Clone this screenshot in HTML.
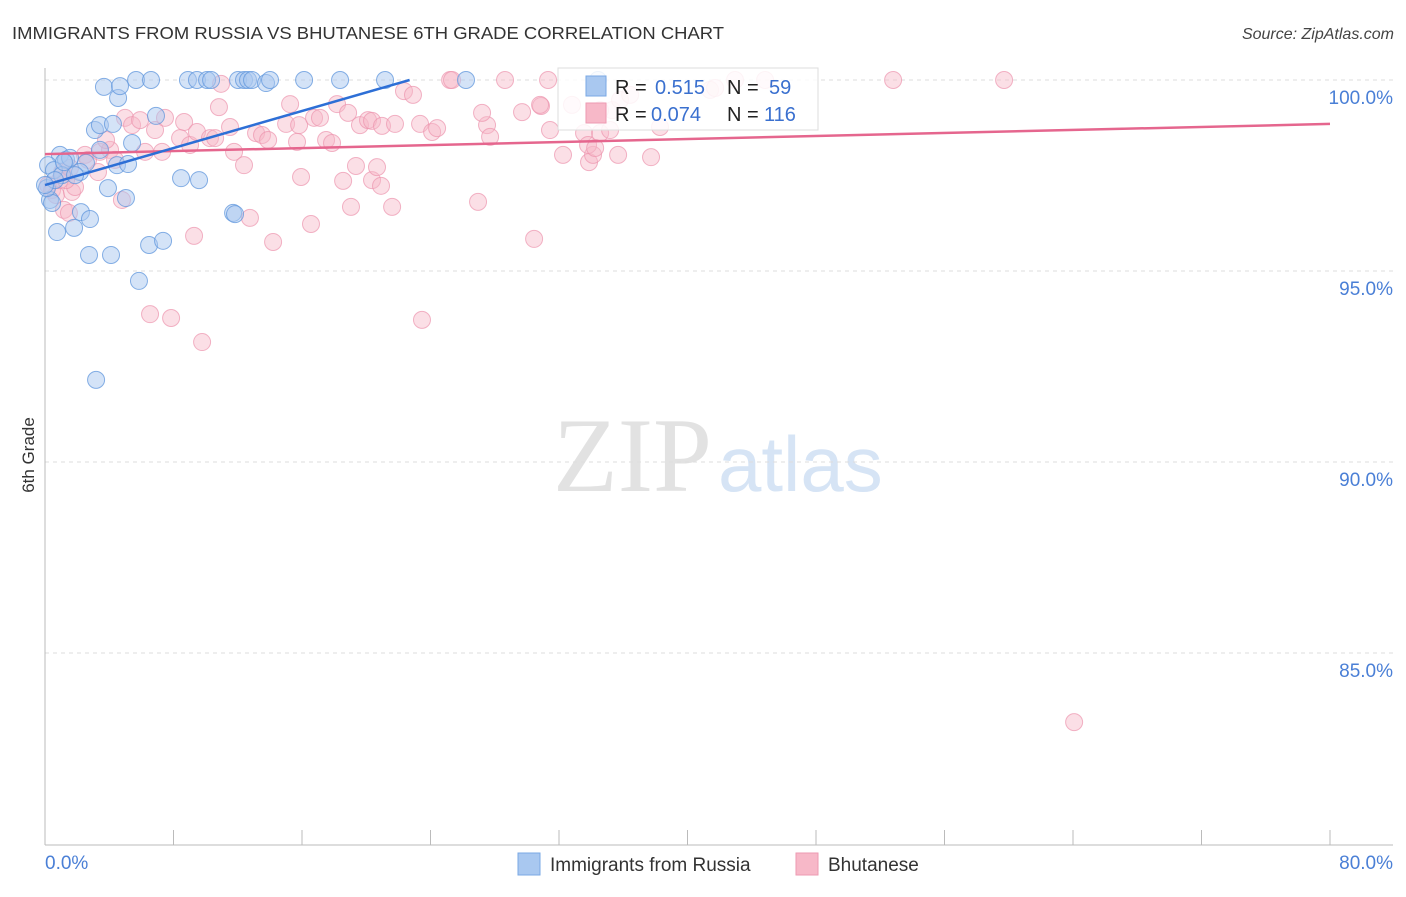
<!DOCTYPE html>
<html><head><meta charset="utf-8"><style>
body{margin:0;background:#fff;font-family:"Liberation Sans",sans-serif}
</style></head><body>
<svg width="1406" height="892" viewBox="0 0 1406 892" xmlns="http://www.w3.org/2000/svg" id="svg">
<text x="12" y="39" font-size="17.5" fill="#333" textLength="712" lengthAdjust="spacingAndGlyphs">IMMIGRANTS FROM RUSSIA VS BHUTANESE 6TH GRADE CORRELATION CHART</text>
<text x="1394" y="39" font-size="16" fill="#444" text-anchor="end" font-style="italic">Source: ZipAtlas.com</text>
<text x="553" y="491" font-size="106" font-family="Liberation Serif,serif" fill="#e2e2e2">ZIP</text>
<text x="718" y="491" font-size="78" fill="#d6e4f5">atlas</text>
<g id="grid"></g>
<g id="marks"></g>
<text transform="translate(34,455) rotate(-90)" font-size="17" fill="#333" text-anchor="middle">6th Grade</text>
<g>
<rect x="558" y="68" width="260" height="62" fill="#fff" fill-opacity="0.85" stroke="#ddd"/>
<rect x="586" y="76" width="20" height="20" fill="#a9c8f0" stroke="#7aa8e4"/>
<rect x="586" y="103" width="20" height="20" fill="#f7b8c8" stroke="#ee9ab2"/>
<text x="615" y="94" font-size="20" fill="#222">R = <tspan x="655" fill="#3a70cf">0.515</tspan><tspan x="727">N = </tspan><tspan x="769" fill="#3a70cf">59</tspan></text>
<text x="615" y="121" font-size="20" fill="#222">R = <tspan x="651" fill="#3a70cf">0.074</tspan><tspan x="727">N = </tspan><tspan x="764" fill="#3a70cf">116</tspan></text>
</g>
<g>
<rect x="518" y="853" width="22" height="22" fill="#a9c8f0" stroke="#7aa8e4"/>
<text x="550" y="871" font-size="19" fill="#333">Immigrants from Russia</text>
<rect x="796" y="853" width="22" height="22" fill="#f7b8c8" stroke="#ee9ab2"/>
<text x="828" y="871" font-size="19" fill="#333">Bhutanese</text>
</g>
</svg>
<script>
const yTicks=[100,95,90,85];
const yTickLabels=["100.0%","95.0%","90.0%","85.0%"];
const xTickLabels=["0.0%","80.0%"];
const russiaX=[3.67,4.55,4.67,5.67,6.60,8.90,9.46,10.09,10.34,12.02,12.39,12.64,12.89,13.76,14.01,16.13,18.37,21.17,26.21,34.43,6.91,3.11,3.42,4.23,5.42,0.93,1.31,1.56,2.55,3.42,4.48,5.17,0.19,0.56,1.06,2.18,3.92,5.04,2.24,2.80,0.75,1.81,8.47,9.59,11.71,11.83,6.48,7.35,2.74,4.11,5.85,3.18,0.31,0.44,0.12,0.62,1.87,0.0,1.18];
const russiaY=[99.82,99.53,99.84,100,100,100,100,100,100,100,100,100,100,99.92,100,100,100,100,100,100,99.06,98.69,98.82,98.85,98.35,98.04,97.91,97.96,97.83,98.17,97.77,97.80,97.77,97.64,97.51,97.59,97.17,96.91,96.54,96.36,96.02,96.13,97.43,97.38,96.52,96.49,95.68,95.79,95.42,95.42,94.74,92.15,96.86,96.78,97.17,97.38,97.51,97.25,97.85];
const bhutanX=[0.19,0.44,0.68,0.93,1.18,1.68,1.06,2.49,2.68,3.42,4.05,4.36,3.80,4.98,5.42,5.92,6.85,7.29,6.23,7.47,8.66,8.41,9.03,9.46,10.27,10.59,10.83,10.96,11.52,11.77,12.39,13.14,13.51,13.89,15.26,15.01,15.82,15.69,16.75,17.12,17.50,17.87,18.18,18.87,19.61,20.11,20.36,20.98,21.79,22.35,22.91,23.35,24.10,24.41,25.22,25.34,27.52,27.71,27.21,28.64,29.70,31.32,30.88,31.44,32.25,33.56,33.87,34.12,34.56,35.18,35.68,37.73,38.29,41.41,42.96,44.83,52.80,59.71,15.94,18.56,19.36,20.36,20.67,20.92,19.05,21.61,16.56,12.76,14.20,9.28,4.79,1.49,6.54,7.85,9.78,23.47,26.96,30.45,33.81,34.25,35.31,64.07,1.87,1.31,3.30,1.56,32.81,30.82,34.56,35.80,41.72,36.43];
const bhutanY=[97.25,97.12,96.99,97.38,96.60,97.07,97.59,98.04,97.91,98.12,98.17,97.91,98.43,99.01,98.82,98.95,98.69,98.12,98.12,99.01,98.90,98.48,98.30,98.64,98.48,98.48,99.29,99.90,98.77,98.12,97.77,98.61,98.56,98.43,99.37,98.85,98.82,98.38,99.01,99.01,98.43,98.35,99.37,99.14,98.82,98.95,98.93,98.80,98.85,99.71,99.61,98.85,98.64,98.74,100,100,98.82,98.51,99.14,100,99.16,100,99.32,98.69,98.04,98.61,97.85,98.04,98.61,98.69,98.04,97.98,98.77,99.74,100,100,100,100,97.46,97.36,97.75,97.38,97.72,97.23,96.68,96.68,96.23,96.39,95.76,95.92,96.86,96.52,93.87,93.77,93.14,93.72,96.81,95.84,98.30,98.22,99.21,83.19,97.20,97.38,97.59,97.70,99.35,99.35,99.21,99.48,99.79,99.61];
const russiaTrend=[[0,97.25],[22.7,100]];
const bhutanTrend=[[0,98.06],[80,98.85]];
const NS="http://www.w3.org/2000/svg";
const X=v=>45+v*(1285/80);
const Y=v=>80+(100-v)*38.2;
function mk(t,a,p){const e=document.createElementNS(NS,t);for(const k in a)e.setAttribute(k,a[k]);p.appendChild(e);return e;}
const grid=document.getElementById('grid'),marks=document.getElementById('marks');
yTicks.forEach((t,i)=>{
 const l=mk('line',{x1:45,x2:1393,y1:Y(t),y2:Y(t),stroke:'#ddd','stroke-dasharray':'4,4'},grid);
 
 
 const tx=mk('text',{x:1393,y:Y(t)+24,'font-size':19,fill:'#4a7fd6','text-anchor':'end'},grid);
 tx.textContent=yTickLabels[i];
 
 
});
const ax=mk('line',{x1:45,x2:45,y1:68,y2:845,stroke:'#bbb'},grid);


const bx=mk('line',{x1:45,x2:1393,y1:845,y2:845,stroke:'#bbb'},grid);


for(let i=1;i<=10;i++){const tk=mk('line',{x1:X(i*8),x2:X(i*8),y1:830,y2:845,stroke:'#bbb'},grid);
 
 }
const x0=mk('text',{x:45,y:869,'font-size':19,fill:'#4a7fd6'},grid);x0.textContent=xTickLabels[0];


const x1=mk('text',{x:1393,y:869,'font-size':19,fill:'#4a7fd6','text-anchor':'end'},grid);x1.textContent=xTickLabels[1];


bhutanX.forEach((v,i)=>{const c=mk('circle',{cx:X(v),cy:Y(bhutanY[i]),r:8.5,fill:'#f7b8c8','fill-opacity':0.45,stroke:'#ec94ae','stroke-opacity':0.7},marks);
 
 });
russiaX.forEach((v,i)=>{const c=mk('circle',{cx:X(v),cy:Y(russiaY[i]),r:8.5,fill:'#a9c8f0','fill-opacity':0.5,stroke:'#5f95dc','stroke-opacity':0.75},marks);
 
 });
const t1=mk('line',{x1:X(bhutanTrend[0][0]),y1:Y(bhutanTrend[0][1]),x2:X(bhutanTrend[1][0]),y2:Y(bhutanTrend[1][1]),stroke:'#e5668e','stroke-width':2.5},marks);


const t2=mk('line',{x1:X(russiaTrend[0][0]),y1:Y(russiaTrend[0][1]),x2:X(russiaTrend[1][0]),y2:Y(russiaTrend[1][1]),stroke:'#2d6fd6','stroke-width':2.5},marks);


</script>
</body></html>
